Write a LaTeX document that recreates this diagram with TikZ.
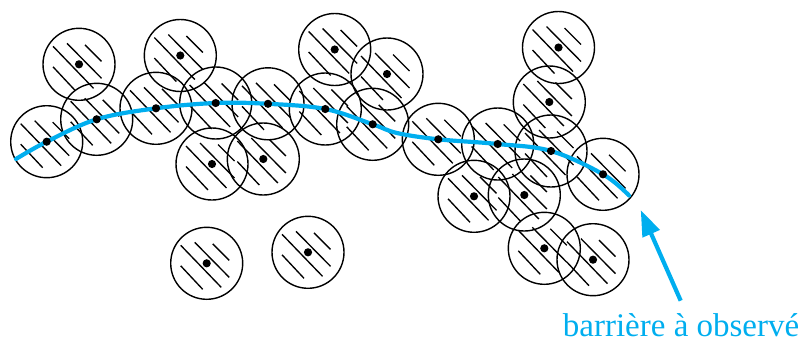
\documentclass[tikz,border=0pt]{standalone}
\usepackage{fontspec}
\setmainfont{Liberation Serif}
\usetikzlibrary{arrows.meta}
\definecolor{barblue}{RGB}{0,174,239}
\tikzset{
  disk/.style={circle, draw=black, line width=1.4pt, minimum size=72pt, inner sep=0pt,
    path picture={
      \draw[line width=1.35pt] (path picture bounding box.center) ++(6,-19.5) -- ++(16.5,16.5);
      \draw[line width=1.35pt] (path picture bounding box.center) ++(-12,-21) -- ++(34.5,35);
      \draw[line width=1.35pt] (path picture bounding box.center) ++(-26,-18) -- ++(40.5,42);
      \draw[line width=1.35pt] (path picture bounding box.center) ++(-26,2.5) -- ++(22,23.5);
    }},
  dotmark/.style={fill=black},
  barrier/.style={draw=barblue, line width=4.2pt, line cap=round},
  pointer/.style={draw=barblue, line width=4.2pt, -{Triangle[length=26pt,width=18pt]}},
  lbl/.style={text=barblue, font=\fontsize{33}{40}\selectfont, inner sep=0pt, anchor=base west}
}
\begin{document}
\begin{tikzpicture}[x=1pt,y=-1pt]
\useasboundingbox (0,0) rectangle (802,343);
\foreach \n/\x/\y in {
  1/79/64.3, 2/180.3/55.5, 3/334.7/49.5, 4/387/74, 5/558.5/47.5, 6/549.3/102,
  7/46.7/141.7, 8/96.7/119.3, 9/156/108.3, 10/215.7/103, 11/268/103.8,
  12/325.3/109, 13/372.7/124.3, 14/438.3/139.3, 15/497.7/144, 16/551/151,
  17/603/174.3, 18/212/164, 19/263.3/159, 20/474/196.3, 21/524.3/195,
  22/544.3/248.3, 23/593/259.7, 24/206.7/263.3, 25/308/252.3}
  \node[disk] (c\n) at (\x,\y) {};
\coordinate (start) at (16,159);
\coordinate (bend) at (397,133);
\coordinate (finish) at (629,195.5);
\draw[barrier] plot[smooth, tension=0.6] coordinates {(start) (c7) (c8) (c9) (c10) (c11) (c12) (c13) (bend) (c14) (c15) (c16) (c17) (finish)};
\foreach \n in {1,...,25}
  \fill[dotmark] (c\n) circle[radius=4.1pt];
\node[lbl] (label) at (562.7,336.7) {barrière à observé};
\coordinate (tail) at (680.7,300.7);
\coordinate (tip) at (640.7,210);
\draw[pointer] (tail) -- (tip);
\end{tikzpicture}
\end{document}
